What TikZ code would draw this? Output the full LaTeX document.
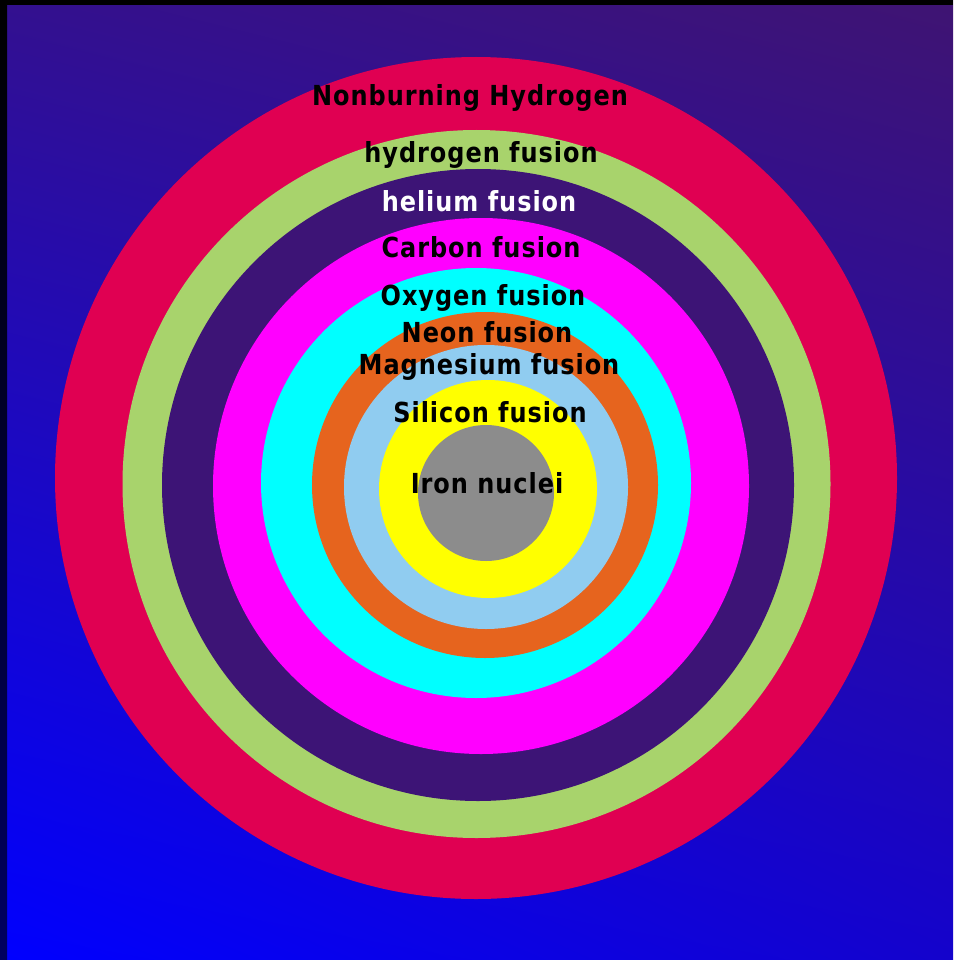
\documentclass[tikz,border=0pt]{standalone}
\usepackage{fontspec}
\usetikzlibrary{shadings}
\setmainfont{DejaVu Sans}
\newfontfamily\lblfont[LetterSpace=4]{DejaVu Sans Bold}
\newcommand{\tallText}[1]{\scalebox{1}[1.15]{#1}}
\definecolor{bgTL}{HTML}{33108F}
\definecolor{bgTR}{HTML}{3F1472}
\definecolor{bgBL}{HTML}{0000FF}
\definecolor{bgBR}{HTML}{1403CC}
\definecolor{ringRed}{HTML}{E00052}
\definecolor{ringGreen}{HTML}{A8D36C}
\definecolor{ringPurple}{HTML}{3D1476}
\definecolor{ringMagenta}{HTML}{FF00FF}
\definecolor{ringCyan}{HTML}{00FFFF}
\definecolor{ringOrange}{HTML}{E6641E}
\definecolor{ringLight}{HTML}{90CCF0}
\definecolor{ringYellow}{HTML}{FFFF00}
\definecolor{ringGray}{HTML}{8C8C8C}
\definecolor{leftNavy}{HTML}{000060}
\tikzset{
  lbl/.style={font=\lblfont\fontsize{24}{28}\selectfont, text=black, inner sep=0pt, anchor=center}
}
\begin{document}
\begin{tikzpicture}[x=1pt,y=-1pt]
\useasboundingbox (0,0) rectangle (953,960);
% background
\fill[upper left=bgTL, upper right=bgTR, lower left=bgBL, lower right=bgBR] (0,0) rectangle (953,960);
% borders
\fill[black] (0,0) rectangle (953,5);
\fill[top color=black, bottom color=leftNavy] (0,0) rectangle (7,960);
% rings
\fill[ringRed] (476,478) circle[radius=421];
\fill[ringGreen] (476.5,484) circle[radius=354];
\fill[ringPurple] (478,485) circle[radius=316];
\fill[ringMagenta] (481,486) circle[radius=268];
\fill[ringCyan] (476,483) circle[radius=215];
\fill[ringOrange] (485,485) circle[radius=173];
\fill[ringLight] (486,487) circle[radius=142];
\fill[ringYellow] (488,489) circle[radius=109];
\fill[ringGray] (486,493) circle[radius=68];
% labels
\node[lbl] (nh) at (470,98) {\tallText{Nonburning Hydrogen}};
\node[lbl] (hf) at (481,155) {\tallText{hydrogen fusion}};
\node[lbl, text=white] (hef) at (479,201) {\tallText{helium fusion}};
\node[lbl] (cf) at (481,247) {\tallText{Carbon fusion}};
\node[lbl] (of) at (483,298) {\tallText{Oxygen fusion}};
\node[lbl] (nf) at (487,332) {\tallText{Neon fusion}};
\node[lbl] (mf) at (489,367) {\tallText{Magnesium fusion}};
\node[lbl] (sf) at (490,412) {\tallText{Silicon fusion}};
\node[lbl] (fe) at (487,483) {\tallText{Iron nuclei}};
\end{tikzpicture}
\end{document}
